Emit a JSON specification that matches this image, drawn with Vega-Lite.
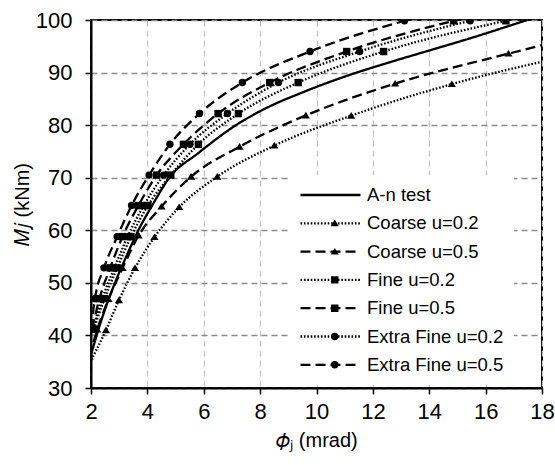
{
  "$schema": "https://vega.github.io/schema/vega-lite/v6.json",
  "width": 451,
  "height": 368,
  "autosize": {"type": "none"},
  "padding": {"left": 91, "top": 20, "right": 13, "bottom": 77},
  "background": "white",
  "config": {
    "font": "Liberation Sans",
    "view": {"stroke": "black", "strokeWidth": 2},
    "axis": {
      "labelFont": "Liberation Sans",
      "labelFontSize": 22,
      "labelColor": "black",
      "titleFont": "Liberation Sans",
      "titleFontSize": 20,
      "titleFontWeight": "normal",
      "titleColor": "black",
      "domainColor": "black",
      "domainWidth": 2,
      "tickColor": "black",
      "tickWidth": 1.5,
      "tickSize": 6,
      "gridDash": [6, 4],
      "gridWidth": 1.3
    },
    "legend": {
      "labelFont": "Liberation Sans",
      "labelFontSize": 18.5,
      "labelColor": "black",
      "labelOffset": 5,
      "clipHeight": 20,
      "rowPadding": 8.3,
      "padding": 10,
      "title": null
    }
  },
  "data": {
    "values": [
      {"s": "A-n test", "x": 2.0, "y": 36.3},
      {"s": "A-n test", "x": 2.2, "y": 40.0},
      {"s": "A-n test", "x": 2.5, "y": 45.0},
      {"s": "A-n test", "x": 2.85, "y": 50.0},
      {"s": "A-n test", "x": 3.25, "y": 55.0},
      {"s": "A-n test", "x": 3.68, "y": 60.0},
      {"s": "A-n test", "x": 4.2, "y": 65.0},
      {"s": "A-n test", "x": 4.78, "y": 70.0},
      {"s": "A-n test", "x": 5.81, "y": 74.7},
      {"s": "A-n test", "x": 7.23, "y": 80.3},
      {"s": "A-n test", "x": 8.35, "y": 83.6},
      {"s": "A-n test", "x": 9.35, "y": 85.9},
      {"s": "A-n test", "x": 11.2, "y": 89.6},
      {"s": "A-n test", "x": 12.5, "y": 91.8},
      {"s": "A-n test", "x": 14.0, "y": 94.2},
      {"s": "A-n test", "x": 15.5, "y": 96.6},
      {"s": "A-n test", "x": 17.47, "y": 100.0},

      {"s": "Coarse u=0.2", "x": 1.9, "y": 34.2},
      {"s": "Coarse u=0.2", "x": 2.53, "y": 41.0},
      {"s": "Coarse u=0.2", "x": 2.99, "y": 46.7},
      {"s": "Coarse u=0.2", "x": 3.56, "y": 52.8},
      {"s": "Coarse u=0.2", "x": 4.25, "y": 58.7},
      {"s": "Coarse u=0.2", "x": 5.13, "y": 64.4},
      {"s": "Coarse u=0.2", "x": 6.48, "y": 70.2},
      {"s": "Coarse u=0.2", "x": 8.5, "y": 76.1},
      {"s": "Coarse u=0.2", "x": 11.23, "y": 81.8},
      {"s": "Coarse u=0.2", "x": 14.8, "y": 87.8},
      {"s": "Coarse u=0.2", "x": 19.4, "y": 93.7},

      {"s": "Coarse u=0.5", "x": 1.95, "y": 36.0},
      {"s": "Coarse u=0.5", "x": 2.22, "y": 41.1},
      {"s": "Coarse u=0.5", "x": 2.62, "y": 46.9},
      {"s": "Coarse u=0.5", "x": 3.12, "y": 52.8},
      {"s": "Coarse u=0.5", "x": 3.69, "y": 59.0},
      {"s": "Coarse u=0.5", "x": 4.5, "y": 64.5},
      {"s": "Coarse u=0.5", "x": 5.55, "y": 70.2},
      {"s": "Coarse u=0.5", "x": 7.27, "y": 75.9},
      {"s": "Coarse u=0.5", "x": 9.62, "y": 81.85},
      {"s": "Coarse u=0.5", "x": 12.79, "y": 87.9},
      {"s": "Coarse u=0.5", "x": 16.81, "y": 93.6},
      {"s": "Coarse u=0.5", "x": 21.5, "y": 99.8},

      {"s": "Fine u=0.2", "x": 2.1, "y": 41.2},
      {"s": "Fine u=0.2", "x": 2.48, "y": 47.0},
      {"s": "Fine u=0.2", "x": 2.93, "y": 52.85},
      {"s": "Fine u=0.2", "x": 3.42, "y": 58.8},
      {"s": "Fine u=0.2", "x": 4.02, "y": 64.7},
      {"s": "Fine u=0.2", "x": 4.83, "y": 70.5},
      {"s": "Fine u=0.2", "x": 5.81, "y": 76.35},
      {"s": "Fine u=0.2", "x": 7.23, "y": 82.2},
      {"s": "Fine u=0.2", "x": 9.35, "y": 88.1},
      {"s": "Fine u=0.2", "x": 12.38, "y": 94.0},
      {"s": "Fine u=0.2", "x": 16.72, "y": 99.85},

      {"s": "Fine u=0.5", "x": 2.04, "y": 41.2},
      {"s": "Fine u=0.5", "x": 2.3, "y": 47.0},
      {"s": "Fine u=0.5", "x": 2.68, "y": 52.85},
      {"s": "Fine u=0.5", "x": 3.12, "y": 58.8},
      {"s": "Fine u=0.5", "x": 3.68, "y": 64.7},
      {"s": "Fine u=0.5", "x": 4.33, "y": 70.5},
      {"s": "Fine u=0.5", "x": 5.28, "y": 76.35},
      {"s": "Fine u=0.5", "x": 6.51, "y": 82.2},
      {"s": "Fine u=0.5", "x": 8.34, "y": 88.1},
      {"s": "Fine u=0.5", "x": 11.07, "y": 94.0},
      {"s": "Fine u=0.5", "x": 14.87, "y": 99.85},

      {"s": "Extra Fine u=0.2", "x": 2.06, "y": 41.2},
      {"s": "Extra Fine u=0.2", "x": 2.4, "y": 47.0},
      {"s": "Extra Fine u=0.2", "x": 2.83, "y": 52.85},
      {"s": "Extra Fine u=0.2", "x": 3.3, "y": 58.8},
      {"s": "Extra Fine u=0.2", "x": 3.87, "y": 64.7},
      {"s": "Extra Fine u=0.2", "x": 4.58, "y": 70.5},
      {"s": "Extra Fine u=0.2", "x": 5.51, "y": 76.35},
      {"s": "Extra Fine u=0.2", "x": 6.84, "y": 82.2},
      {"s": "Extra Fine u=0.2", "x": 8.65, "y": 88.1},
      {"s": "Extra Fine u=0.2", "x": 11.53, "y": 94.0},
      {"s": "Extra Fine u=0.2", "x": 15.45, "y": 99.85},

      {"s": "Extra Fine u=0.5", "x": 2.0, "y": 41.2},
      {"s": "Extra Fine u=0.5", "x": 2.14, "y": 47.0},
      {"s": "Extra Fine u=0.5", "x": 2.46, "y": 52.85},
      {"s": "Extra Fine u=0.5", "x": 2.93, "y": 58.8},
      {"s": "Extra Fine u=0.5", "x": 3.44, "y": 64.7},
      {"s": "Extra Fine u=0.5", "x": 4.06, "y": 70.5},
      {"s": "Extra Fine u=0.5", "x": 4.8, "y": 76.35},
      {"s": "Extra Fine u=0.5", "x": 5.85, "y": 82.2},
      {"s": "Extra Fine u=0.5", "x": 7.37, "y": 88.1},
      {"s": "Extra Fine u=0.5", "x": 9.77, "y": 94.0},
      {"s": "Extra Fine u=0.5", "x": 13.12, "y": 99.85}
    ]
  },
  "encoding": {
    "x": {
      "field": "x",
      "type": "quantitative",
      "scale": {"domain": [2, 18], "nice": false, "zero": false},
      "axis": {
        "title": "𝜙ⱼ (mrad)",
        "values": [2, 4, 6, 8, 10, 12, 14, 16, 18],
        "gridColor": "#c4c4c4",
        "labelPadding": 7,
        "titlePadding": 8,
        "labelFlush": false
      }
    },
    "y": {
      "field": "y",
      "type": "quantitative",
      "scale": {"domain": [30, 100], "nice": false, "zero": false},
      "axis": {
        "title": "𝑀𝑗 (kNm)",
        "values": [30, 40, 50, 60, 70, 80, 90, 100],
        "gridColor": "#8a8a8a",
        "labelPadding": 13,
        "titlePadding": 3
      }
    }
  },
  "layer": [
    {
      "mark": {"type": "line", "color": "black", "strokeWidth": 2.3, "interpolate": "monotone", "clip": true},
      "encoding": {
        "detail": {"field": "s", "type": "nominal"},
        "strokeDash": {
          "field": "s",
          "type": "nominal",
          "sort": ["A-n test", "Coarse u=0.2", "Coarse u=0.5", "Fine u=0.2", "Fine u=0.5", "Extra Fine u=0.2", "Extra Fine u=0.5"],
          "scale": {"range": [[1, 0], [1.6, 1.8], [10, 5], [1.6, 1.8], [10, 5], [1.6, 1.8], [10, 5]]},
          "legend": {
            "orient": "none",
            "legendX": 198,
            "legendY": 155,
            "symbolType": "stroke",
            "symbolSize": 3600,
            "symbolStrokeWidth": 2.3,
            "symbolStrokeColor": "black",
            "fillColor": "white",
            "zindex": 1
          }
        }
      }
    },
    {
      "mark": {"type": "point", "filled": true, "color": "black", "size": 55, "opacity": 1, "strokeWidth": 0, "clip": true},
      "encoding": {
        "shape": {
          "field": "s",
          "type": "nominal",
          "scale": {
            "domain": ["A-n test", "Coarse u=0.2", "Coarse u=0.5", "Fine u=0.2", "Fine u=0.5", "Extra Fine u=0.2", "Extra Fine u=0.5"],
            "range": ["M0,0", "M0,-1L1.1,0.8L-1.1,0.8Z", "M0,-1L1.1,0.8L-1.1,0.8Z", "square", "square", "circle", "circle"]
          },
          "legend": {
            "orient": "none",
            "legendX": 224.5,
            "legendY": 155,
            "symbolSize": 55,
            "symbolFillColor": "black",
            "symbolStrokeWidth": 0,
            "labelExpr": "''",
            "zindex": 2
          }
        }
      }
    }
  ]
}
